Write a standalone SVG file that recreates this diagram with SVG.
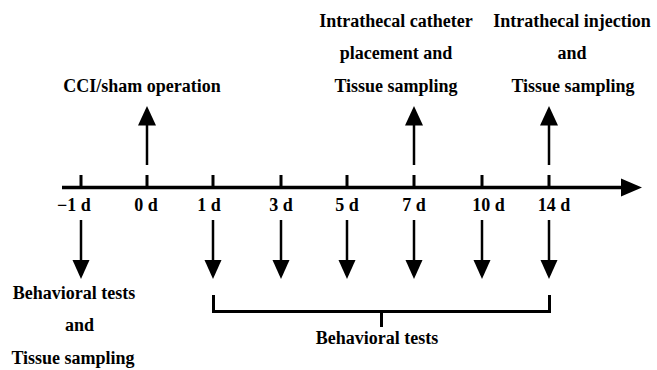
<svg xmlns="http://www.w3.org/2000/svg" width="657" height="370" viewBox="0 0 657 370">
<style>
text{font-family:"Liberation Serif","Times New Roman",serif;font-weight:bold;font-size:18px;fill:#000;text-anchor:middle}
.ln{stroke:#000;stroke-width:2.5;fill:none}
.ax{stroke:#000;stroke-width:3.5;fill:none}
.tk{stroke:#000;stroke-width:3;fill:none}
.hd{fill:#000}
</style>
<rect width="657" height="370" fill="#fff"/>
<g id="connectors">
<g id="axis">
<line class="ax" x1="62" y1="187.5" x2="623" y2="187.5"/>
<polygon class="hd" points="621,178.5 642,187.5 621,196.5"/>
<line class="tk" x1="81" y1="175" x2="81" y2="188"/>
<line class="tk" x1="147" y1="175" x2="147" y2="188"/>
<line class="tk" x1="213" y1="175" x2="213" y2="188"/>
<line class="tk" x1="281" y1="175" x2="281" y2="188"/>
<line class="tk" x1="347" y1="175" x2="347" y2="188"/>
<line class="tk" x1="414" y1="175" x2="414" y2="188"/>
<line class="tk" x1="482" y1="175" x2="482" y2="188"/>
<line class="tk" x1="549" y1="175" x2="549" y2="188"/>
</g>
<g id="up-arrows">
<line class="ln" x1="147" y1="165" x2="147" y2="124"/>
<polygon class="hd" points="138,125.5 147,106 156,125.5"/>
<line class="ln" x1="414" y1="165" x2="414" y2="124"/>
<polygon class="hd" points="405,125.5 414,106 423,125.5"/>
<line class="ln" x1="549" y1="165" x2="549" y2="124"/>
<polygon class="hd" points="540,125.5 549,106 558,125.5"/>
</g>
<g id="down-arrows">
<line class="ln" x1="81" y1="220" x2="81" y2="261"/>
<polygon class="hd" points="72.5,260 81,279 89.5,260"/>
<line class="ln" x1="213" y1="220" x2="213" y2="261"/>
<polygon class="hd" points="204.5,260 213,279 221.5,260"/>
<line class="ln" x1="281" y1="220" x2="281" y2="261"/>
<polygon class="hd" points="272.5,260 281,279 289.5,260"/>
<line class="ln" x1="347" y1="220" x2="347" y2="261"/>
<polygon class="hd" points="338.5,260 347,279 355.5,260"/>
<line class="ln" x1="414" y1="220" x2="414" y2="261"/>
<polygon class="hd" points="405.5,260 414,279 422.5,260"/>
<line class="ln" x1="482" y1="220" x2="482" y2="261"/>
<polygon class="hd" points="473.5,260 482,279 490.5,260"/>
<line class="ln" x1="549" y1="220" x2="549" y2="261"/>
<polygon class="hd" points="540.5,260 549,279 557.5,260"/>
</g>
<g id="bracket">
<polyline class="tk" points="213.5,295 213.5,311.5 549.5,311.5 549.5,295"/>
<line class="tk" x1="381.5" y1="311.5" x2="381.5" y2="327"/>
</g>
</g>
<g id="tick-labels">
<text x="74" y="211">−1 d</text>
<text x="146" y="211">0 d</text>
<text x="209" y="211">1 d</text>
<text x="281" y="211">3 d</text>
<text x="347" y="211">5 d</text>
<text x="414" y="211">7 d</text>
<text x="488.5" y="211">10 d</text>
<text x="554" y="211">14 d</text>
</g>
<g id="cci">
<text x="142" y="91.5">CCI/sham operation</text>
</g>
<g id="catheter">
<text x="396" y="26.5">Intrathecal catheter</text>
<text x="396" y="59">placement and</text>
<text x="396" y="91.5">Tissue sampling</text>
</g>
<g id="injection">
<text x="572" y="26.5">Intrathecal injection</text>
<text x="572" y="59">and</text>
<text x="573" y="91.5">Tissue sampling</text>
</g>
<g id="baseline-tests">
<text x="74" y="298.5">Behavioral tests</text>
<text x="79.5" y="331">and</text>
<text x="73" y="363.5">Tissue sampling</text>
</g>
<g id="behavioral-tests">
<text x="377" y="343.5">Behavioral tests</text>
</g>
</svg>
